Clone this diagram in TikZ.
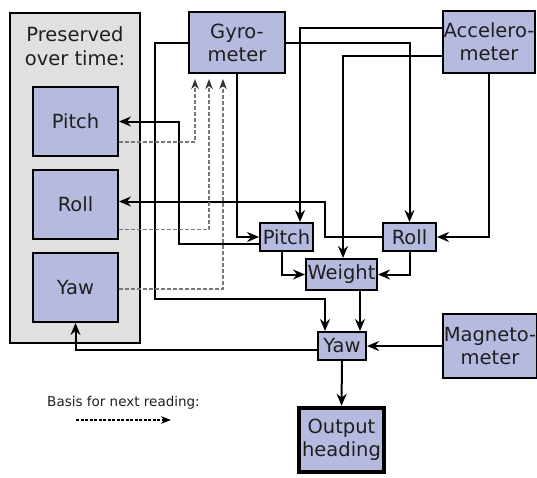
\documentclass[tikz,border=0pt]{standalone}
\usepackage{fontspec}
\setmainfont{DejaVu Sans}
\usetikzlibrary{arrows.meta,calc}
\definecolor{boxfill}{RGB}{182,186,222}
\definecolor{contfill}{RGB}{224,225,222}
\definecolor{dashgray}{RGB}{120,120,120}
\begin{document}
\begin{tikzpicture}[x=1pt,y=-1pt,
  box/.style={draw=black,line width=2pt,fill=boxfill,rectangle,inner sep=0pt,align=center,text=black!88,font=\fontsize{19.5}{23}\selectfont},
  contbox/.style={draw=black,line width=2pt,fill=contfill,rectangle,inner sep=0pt},
  arr/.style={line width=2pt,-{Stealth[length=12pt,width=10pt,inset=4pt]}},
  dsh/.style={draw=dashgray,line width=1.3pt,dash pattern=on 4pt off 2pt,-{Stealth[length=10pt,width=7.5pt,inset=3pt,black!80]}},
  leg/.style={draw=black,line width=1.5pt,dash pattern=on 3pt off 1.5pt,-{Stealth[length=10pt,width=7.5pt,inset=3pt]}}
]
\useasboundingbox (0,0) rectangle (537,477);
% container
\node[contbox,minimum width=130pt,minimum height=330pt] (cont) at (75,178) {};
\node[align=center,text=black!88,font=\fontsize{19.5}{24}\selectfont] (title) at (75,46) {Preserved\\over time:};
% preserved boxes
\node[box,minimum width=85pt,minimum height=69pt] (pP) at (75.5,121.5) {Pitch};
\node[box,minimum width=85pt,minimum height=69pt] (pR) at (75.5,204.5) {Roll};
\node[box,minimum width=85pt,minimum height=69pt] (pY) at (75.5,287.5) {Yaw};
% sensors
\node[box,minimum width=96pt,minimum height=61pt] (gyro) at (237,42.5) {Gyro-\\meter};
\node[box,minimum width=92pt,minimum height=62pt] (acc) at (489,42) {Accelero-\\meter};
\node[box,minimum width=94pt,minimum height=64pt] (mag) at (490,346) {Magneto-\\meter};
% small boxes
\node[box,minimum width=53pt,minimum height=28pt] (sP) at (286.5,237) {Pitch};
\node[box,minimum width=53pt,minimum height=28pt] (sR) at (409.5,237) {Roll};
\node[box,minimum width=71pt,minimum height=31pt] (W) at (341.5,274.5) {Weight};
\node[box,minimum width=48pt,minimum height=28pt] (sY) at (342,346) {Yaw};
\node[box,line width=4.5pt,minimum width=85pt,minimum height=64pt] (out) at (341.5,440) {Output\\heading};
% legend
\node[text=black!88,font=\fontsize{13.5}{16}\selectfont] (legtxt) at (123.5,403) {Basis for next reading:};
\coordinate (l1) at (76,420);
\coordinate (l2) at (171,420);
\draw[leg] (l1) -- (l2);
% solid connectors
\draw[arr] (gyro.south) |- (sP.west);
\draw[arr] (gyro.east) -| (sR.north);
\coordinate (g1) at ($(sY.north)+(-17,0)$);
\draw[arr] (gyro.west) -- ++(-33,0) |- (g1 |- 0,299) -- (g1);
\draw[arr] (acc.west |- 0,28) -| ($(sP.north)+(13.5,0)$);
\draw[arr] (acc.west |- 0,56) -| ($(W.north)+(1.5,0)$);
\draw[arr] (acc.south) |- (sR.east);
\draw[arr] ($(sP.west)+(0,7)$) -- (179,244) |- (pP.east);
\draw[arr] (sR.west) -- (325,237) |- ($(pR.east)+(0,-3)$);
\draw[arr] ($(sP.south)+(-4.5,0)$) |- (W.west);
\draw[arr] (sR.south) |- (W.east);
\coordinate (w1) at ($(W.south)+(18.5,0)$);
\draw[arr] (w1) -- (w1 |- sY.north);
\draw[arr] (mag.west) -- (sY.east);
\draw[arr] ($(sY.west)+(0,4)$) -| (pY.south);
\draw[arr] (sY.south) -- (out.north);
% dashed feedback
\draw[dsh] ($(pP.east)+(0,20.5)$) -| ($(gyro.south)+(-42,5)$);
\draw[dsh] ($(pR.east)+(0,25)$) -| ($(gyro.south)+(-28,5)$);
\draw[dsh] ($(pY.east)+(0,1.5)$) -| ($(gyro.south)+(-14,5)$);
\end{tikzpicture}
\end{document}
